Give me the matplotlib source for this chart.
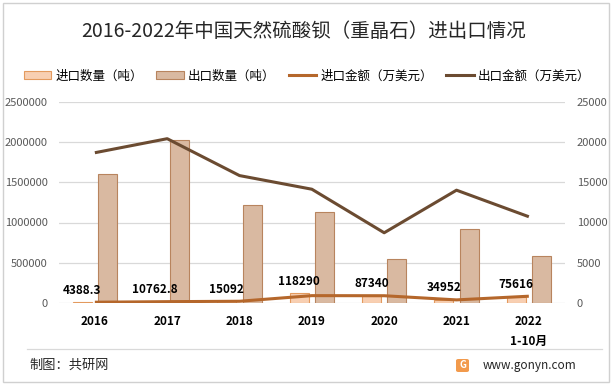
import matplotlib
matplotlib.use('Agg')
import matplotlib.pyplot as plt
import numpy as np
from matplotlib.patches import Patch, Rectangle, FancyBboxPatch
from matplotlib.lines import Line2D

plt.rcParams['font.family'] = ['Noto Sans CJK SC', 'DejaVu Sans']

years = ['2016', '2017', '2018', '2019', '2020', '2021', '2022\n1-10月']
import_qty = [4388.3, 10762.8, 15092, 118290, 87340, 34952, 75616]
export_qty = [1605000, 2025000, 1214000, 1127000, 545000, 915000, 582000]
import_amt = [60, 130, 180, 880, 870, 350, 810]
export_amt = [18700, 20450, 15850, 14150, 8720, 14030, 10720]

IMPORT_BAR = '#F8CFB2'
IMPORT_EDGE = '#E39A5E'
EXPORT_BAR = '#D9B9A1'
EXPORT_EDGE = '#B8845E'
IMPORT_LINE = '#B5672B'
EXPORT_LINE = '#6B4B31'
GRID = '#D9D9D9'
TICK = '#595959'

W, H = 613, 384
fig = plt.figure(figsize=(W / 100, H / 100), dpi=100)

left, right, top, bottom = 58.7, 565, 102.2, 302.7
ax = fig.add_axes([left / W, 1 - bottom / H, (right - left) / W, (bottom - top) / H])
ax2 = ax.twinx()

x = np.arange(len(years))
bw = 0.26
ax.bar(x - 0.175, import_qty, bw, color=IMPORT_BAR, edgecolor=IMPORT_EDGE,
       linewidth=0.8, zorder=2)
ax.bar(x + 0.175, export_qty, bw, color=EXPORT_BAR, edgecolor=EXPORT_EDGE,
       linewidth=0.8, zorder=2)

for xi, v in zip(x, import_qty):
    ax.annotate(f'{v:g}', (xi - 0.175, v), xytext=(0, 4), textcoords='offset points',
                ha='center', va='bottom', fontsize=8.5, fontweight='bold',
                color='black', zorder=5)

ax2.plot(x, import_amt, color=IMPORT_LINE, linewidth=2.2, solid_capstyle='butt')
ax2.plot(x, export_amt, color=EXPORT_LINE, linewidth=2.2, solid_capstyle='butt')

ax.set_xlim(-0.5, len(years) - 0.5)
ax.set_ylim(0, 2500000)
ax.set_yticks(np.arange(0, 2500001, 500000))
ax.ticklabel_format(style='plain', axis='y', useOffset=False)
ax2.set_ylim(0, 25000)
ax2.set_yticks(np.arange(0, 25001, 5000))

ax.yaxis.grid(True, color=GRID, linewidth=0.9, zorder=0)
ax.set_axisbelow(True)
for a in (ax, ax2):
    for s in a.spines.values():
        s.set_visible(False)
    a.tick_params(length=0)

ax.tick_params(axis='y', labelsize=8, labelcolor=TICK, pad=8)
ax2.tick_params(axis='y', labelsize=8, labelcolor=TICK, pad=8.5)
ax.set_xticks(x)
ax.set_xticklabels(years, fontsize=8.5, fontweight='bold', linespacing=1.7)
ax.tick_params(axis='x', pad=9)

handles = [
    Patch(facecolor=IMPORT_BAR, edgecolor=IMPORT_EDGE, linewidth=0.8),
    Patch(facecolor=EXPORT_BAR, edgecolor=EXPORT_EDGE, linewidth=0.8),
    Line2D([], [], color=IMPORT_LINE, linewidth=2.2),
    Line2D([], [], color=EXPORT_LINE, linewidth=2.2),
]
labels = ['进口数量（吨）', '出口数量（吨）', '进口金额（万美元）', '出口金额（万美元）']
fig.legend(handles, labels, loc='center', bbox_to_anchor=(307 / W, 1 - 76 / H),
           ncol=4, frameon=False, fontsize=9, handlelength=2.2, handleheight=0.6,
           handletextpad=0.3, columnspacing=1.1)

fig.text(304 / W, 1 - 31.7 / H, '2016-2022年中国天然硫酸钡（重晶石）进出口情况',
         ha='center', va='center', fontsize=14, color='#262626')

# footer
fig.add_artist(Line2D([26.6 / W, 602 / W], [1 - 349.3 / H] * 2, color=GRID, linewidth=0.9))
fig.text(29 / W, 1 - 365 / H, '制图：共研网', ha='left', va='center', fontsize=9.5,
         color='#262626')
fig.text(483 / W, 1 - 365 / H, 'www.gonyn.com', ha='left', va='center', fontsize=8.5,
         color='#262626')
fig.add_artist(FancyBboxPatch((456 / W, 1 - 372 / H), 13 / W, 13 / H,
                              boxstyle='round,pad=0,rounding_size=0.004',
                              facecolor='#F29A4C', edgecolor='none',
                              transform=fig.transFigure))
fig.text(462.5 / W, 1 - 365.5 / H, 'G', ha='center', va='center', fontsize=7,
         fontweight='bold', color='white')

# outer frame
fig.add_artist(Rectangle((3 / W, 2 / H), 606 / W, 379 / H, fill=False,
                         edgecolor='#D0D0D0', linewidth=1, transform=fig.transFigure))

fig.savefig('out.png', dpi=100)
